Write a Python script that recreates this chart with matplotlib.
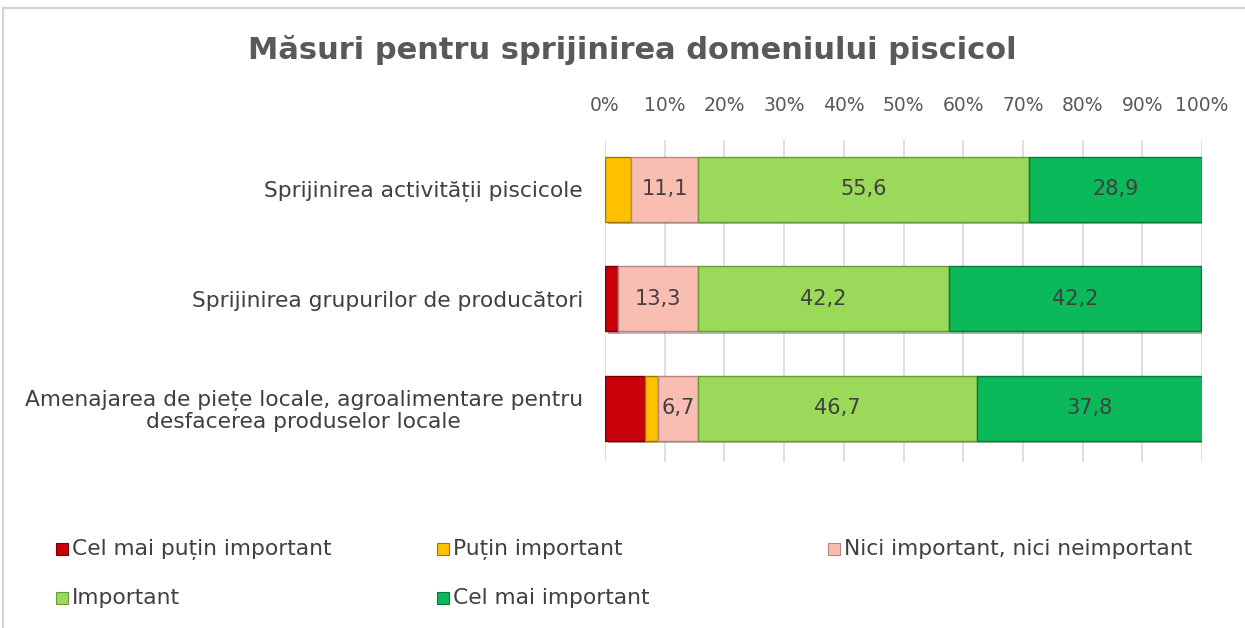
import matplotlib
matplotlib.use("Agg")
import matplotlib.pyplot as plt
import matplotlib.patheffects as pe
from matplotlib.patches import Rectangle

plt.rcParams["font.family"] = ["DejaVu Sans"]

CATEGORIES = [
    "Sprijinirea activității piscicole",
    "Sprijinirea grupurilor de producători",
    "Amenajarea de piețe locale, agroalimentare pentru\ndesfacerea produselor locale",
]
SERIES = [
    "Cel mai puțin important",
    "Puțin important",
    "Nici important, nici neimportant",
    "Important",
    "Cel mai important",
]
cel_mai_putin = [0.0, 2.2, 6.7]
putin = [4.4, 0.0, 2.2]
nici = [11.1, 13.3, 6.7]
important = [55.6, 42.2, 46.7]
cel_mai = [28.9, 42.2, 37.8]
VALUES = [cel_mai_putin, putin, nici, important, cel_mai]
LABELLED = [False, False, True, True, True]

COLORS = ["#c8000a", "#ffc000", "#f9bdb2", "#9bd95a", "#0bb85a"]
EDGES = ["#7a0006", "#a07800", "#b08880", "#6a9a3a", "#0a7a3c"]
TEXT = "#404040"

fig = plt.figure(figsize=(12.45, 6.28), dpi=100)

# light frame around the chart area
fig.patches.append(Rectangle((3 / 1245, -0.05), 1.1, 1 - 8 / 628 + 0.05,
                             transform=fig.transFigure, fill=False,
                             edgecolor="#d4d4d4", linewidth=1.5))

ax = fig.add_axes([605 / 1245, 1 - 462 / 628, (1202 - 605) / 1245, (462 - 140) / 628])

ys = list(range(len(CATEGORIES)))
left = [0.0] * len(CATEGORIES)
shadow = [pe.SimplePatchShadow(offset=(2, -2), alpha=0.35), pe.Normal()]
for vals, color, edge, lab in zip(VALUES, COLORS, EDGES, LABELLED):
    bars = ax.barh(ys, vals, left=left, height=0.59, color=color,
                   edgecolor=edge, linewidth=1.0, zorder=3)
    for b in bars:
        b.set_path_effects(shadow)
    if lab:
        for y, v, l in zip(ys, vals, left):
            ax.text(l + v / 2, y, f"{v:.1f}".replace(".", ","), ha="center",
                    va="center", fontsize=15, color=TEXT, zorder=4)
    left = [a + b for a, b in zip(left, vals)]

ax.set_xlim(0, 100)
ax.set_ylim(2.49, -0.45)
ax.set_xticks(range(0, 101, 10))
ax.set_xticklabels([f"{t}%" for t in range(0, 101, 10)])
ax.xaxis.tick_top()
ax.tick_params(axis="x", length=0, labelsize=13.5, labelcolor="#595959", pad=18)
ax.set_yticks(ys)
ax.set_yticklabels(CATEGORIES, fontsize=15.7, color=TEXT, multialignment="center",
                   linespacing=1.05)
ax.tick_params(axis="y", length=0, pad=16)
ax.xaxis.grid(True, color="#d9d9d9", linewidth=1.2, zorder=0)
ax.set_axisbelow(True)
for s in ax.spines.values():
    s.set_visible(False)

fig.text(632 / 1245, 1 - 50 / 628, "Măsuri pentru sprijinirea domeniului piscicol",
         ha="center", va="center", fontsize=22, fontweight="bold", color="#595959")

# legend laid out in rows, like the office chart
leg_x = [62, 443, 834, 62, 443]
leg_y = [549, 549, 549, 598, 598]
for name, color, edge, x, y in zip(SERIES, COLORS, EDGES, leg_x, leg_y):
    fig.patches.append(Rectangle(((x - 6) / 1245, 1 - (y + 6) / 628), 12 / 1245, 12 / 628,
                                 transform=fig.transFigure, facecolor=color,
                                 edgecolor=edge, linewidth=0.8))
    fig.text((x + 10) / 1245, 1 - y / 628, name, ha="left", va="center",
             fontsize=15.7, color=TEXT)

fig.savefig("out.png", dpi=100)
